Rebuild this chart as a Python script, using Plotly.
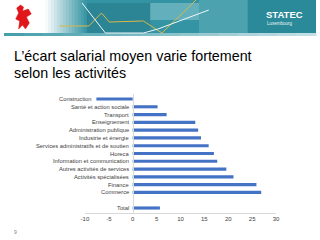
import plotly.graph_objects as go

categories = ["Construction", "Santé et action sociale", "Transport", "Enseignement",
              "Administration publique", "Industrie et énergie",
              "Services administratifs et de soutien", "Horeca",
              "Information et communication", "Autres activités de services",
              "Activités spécialisées", "Finance", "Commerce", " ", "Total"]
values = [-7.6, 5.2, 7.1, 13.1, 13.7, 14.3, 15.9, 17.0, 17.7, 19.6, 21.1, 25.9, 26.9, None, 5.7]
x_ticks = [-10, -5, 0, 5, 10, 15, 20, 25, 30]
x_ticktext = ["-10", "-5", "0", "5", "10", "15", "20", "25", "30"]

W, H = 320, 240
def px(x): return x / W
def py(y): return 1 - y / H

fig = go.Figure()
fig.add_trace(go.Bar(y=categories, x=values, orientation="h",
                     marker=dict(color="#4472C4", line=dict(width=0)), hoverinfo="skip"))

shapes = []
def lerp(c1, c2, t):
    return "rgb(%d,%d,%d)" % tuple(int(a + (b - a) * t) for a, b in zip(c1, c2))
def rect(a, b, y0, y1, color):
    shapes.append(dict(type="rect", xref="paper", yref="paper", x0=px(a), x1=px(b),
                       y0=py(y1), y1=py(y0), line=dict(width=0), fillcolor=color, layer="below"))
white = (255, 255, 255)
teal = (52, 148, 163)
n = 14
x0, x1 = 42, 85
for i in range(n):
    a = x0 + (x1 - x0) * i / n
    b = x0 + (x1 - x0) * (i + 1) / n + 0.5
    rect(a, b, 0, 33, lerp(white, teal, (i + 0.5) / n))
rect(85, 320, 0, 33, "rgb(52,148,163)")
rect(85, 150, 3, 33, "rgba(25,100,115,0.30)")
rect(150, 200, 3, 20, "rgba(190,230,236,0.35)")
rect(200, 250, 0, 33, "rgba(150,205,215,0.25)")
rect(250, 320, 0, 33, "rgba(30,120,135,0.35)")
m = 16
for i in range(m):
    a = 320 * i / m
    b = 320 * (i + 1) / m + 0.5
    rect(a, b, 33, 36, lerp((70, 160, 172), (205, 228, 232), i / m))

def path(pts):
    return "M " + " L ".join("%f,%f" % (px(x), py(y)) for x, y in pts)
shapes.append(dict(type="path", xref="paper", yref="paper",
                   path=path([(57, 26), (87, 26), (100, 13), (108, 22), (143, 21), (162, 33), (197, 0)]),
                   line=dict(color="#d9b84a", width=1)))
shapes.append(dict(type="path", xref="paper", yref="paper",
                   path=path([(80, 3), (100, 28), (104, 33), (143, 33), (158, 29), (210, 10)]),
                   line=dict(color="#eef7f8", width=1)))
# red lion (rough)
lion = [(13, 8), (17, 5), (20, 7), (19, 11), (25, 9), (28, 14),
        (23, 17), (26, 23), (22, 29), (19, 25), (15, 29), (16, 21),
        (12, 19), (15, 13)]
shapes.append(dict(type="path", xref="paper", yref="paper",
                   path=path(lion) + " Z",
                   fillcolor="#e0161b", line=dict(color="#e0161b", width=0.5)))

annotations = []
for c, v in zip(categories, values):
    if v is None:
        continue
    annotations.append(dict(x=min(v, 0), y=c, xref="x", yref="y", text=c,
                            showarrow=False, xanchor="right", xshift=-2,
                            font=dict(family="Liberation Sans", size=5.8, color="#404040")))
annotations += [
    dict(x=px(8), y=py(56), xref="paper", yref="paper", text="L’écart salarial moyen varie fortement",
         showarrow=False, xanchor="left", yanchor="middle",
         font=dict(family="Liberation Sans", size=14.3, color="#000000")),
    dict(x=px(8), y=py(73), xref="paper", yref="paper", text="selon les activités",
         showarrow=False, xanchor="left", yanchor="middle",
         font=dict(family="Liberation Sans", size=14.3, color="#000000")),
    dict(x=px(267), y=py(14), xref="paper", yref="paper", text="<b>STATEC</b>",
         showarrow=False, xanchor="left", yanchor="middle",
         font=dict(family="Liberation Sans", size=9.5, color="#ffffff")),
    dict(x=px(268), y=py(24), xref="paper", yref="paper", text="Luxembourg",
         showarrow=False, xanchor="left", yanchor="middle",
         font=dict(family="Liberation Sans", size=4.5, color="#e8f4f6")),
    dict(x=px(12), y=py(232), xref="paper", yref="paper", text="9",
         showarrow=False, xanchor="center", yanchor="middle",
         font=dict(family="Liberation Sans", size=5, color="#808080")),
]

fig.update_layout(
    width=W, height=H, margin=dict(l=0, r=0, t=0, b=0),
    paper_bgcolor="white", plot_bgcolor="white",
    showlegend=False, bargap=0.6,
    shapes=shapes, annotations=annotations,
    xaxis=dict(domain=[px(83), px(279)], range=[-10, 30], tickvals=x_ticks, ticktext=x_ticktext,
               showgrid=False, zeroline=False, showline=True, linecolor="#d9d9d9",
               linewidth=1, ticks="", tickfont=dict(family="Liberation Sans", size=6, color="#404040"),
               fixedrange=True),
    yaxis=dict(domain=[py(213), py(94)], categoryorder="array", categoryarray=categories,
               autorange="reversed", anchor="free", position=px(132),
               showticklabels=False, showgrid=False, zeroline=False, showline=True,
               linecolor="#d9d9d9", linewidth=1, ticks="", fixedrange=True),
)
fig.write_html("out.html")
